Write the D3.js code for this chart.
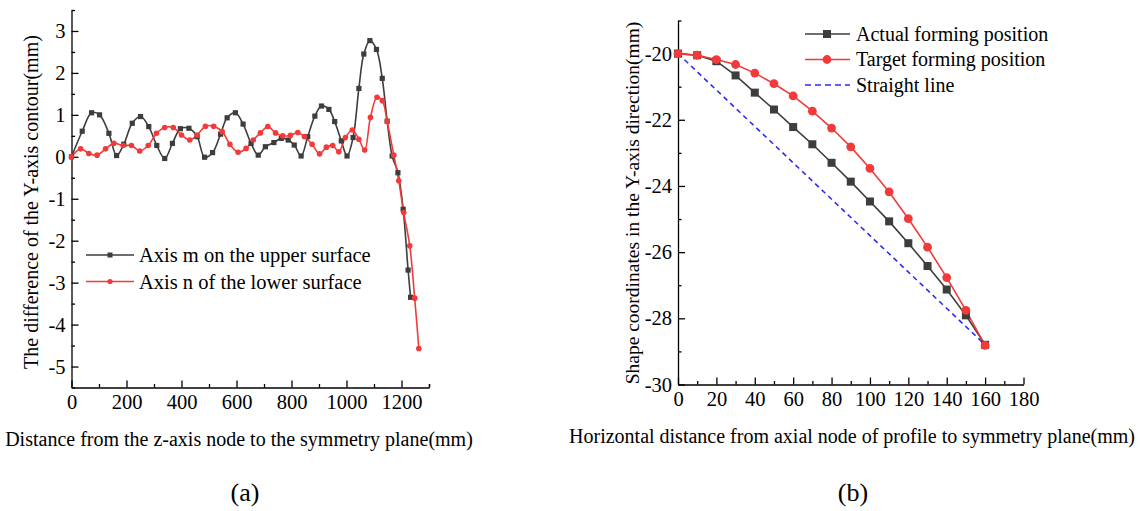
<!DOCTYPE html>
<meta charset="utf-8">
<style>
body { margin: 0; background: #fff; }
svg text { font-family: "Liberation Serif", "Times New Roman", serif; fill: #000; }
.axis path, .axis line { stroke: #000; stroke-width: 1.3px; }
</style>
<body>
<script src="https://d3js.org/d3.v7.min.js"></script>
<script>

// ---- left chart (a): Y-axis contour difference ----
var mNodeX = [0, 39, 73, 102, 136, 164, 190, 221, 251, 281, 310, 339, 367, 396, 427, 457, 484, 513, 542, 566,
              596, 624, 653, 679, 705, 736, 763, 788, 810, 835, 859, 885, 909, 936, 957, 981, 1002, 1024, 1045,
              1063, 1085, 1109, 1130, 1148, 1166, 1187, 1206, 1224, 1233];
var mDiff  = [0, 0.61, 1.05, 1.0, 0.56, 0.03, 0.30, 0.80, 0.96, 0.72, 0.27, -0.04, 0.32, 0.67, 0.68, 0.48, -0.01, 0.10, 0.54, 0.93,
              1.05, 0.78, 0.32, 0.04, 0.24, 0.34, 0.44, 0.40, 0.28, 0.02, 0.48, 0.97, 1.21, 1.13, 0.84, 0.38, 0.02, 0.46, 1.63,
              2.45, 2.77, 2.56, 1.87, 0.85, 0.02, -0.38, -1.25, -2.70, -3.35];

var nNodeX = [0, 33, 63, 93, 124, 154, 188, 218, 248, 279, 309, 339, 370, 400, 430, 457, 487, 517, 548, 576,
              606, 635, 661, 687, 714, 742, 768, 796, 823, 847, 875, 902, 927, 950, 972, 996, 1021, 1045, 1066,
              1087, 1111, 1130, 1148, 1172, 1190, 1208, 1230, 1248, 1263];
var nDiff  = [0, 0.19, 0.08, 0.04, 0.19, 0.32, 0.27, 0.27, 0.14, 0.27, 0.56, 0.70, 0.70, 0.52, 0.40, 0.52, 0.73, 0.73, 0.60, 0.30,
              0.11, 0.20, 0.40, 0.57, 0.72, 0.57, 0.50, 0.51, 0.58, 0.48, 0.30, 0.07, 0.23, 0.27, 0.12, 0.46, 0.64, 0.42, 0.16,
              0.94, 1.42, 1.34, 0.84, 0.04, -0.57, -1.33, -2.12, -3.37, -4.57];

var aXTicks = [0, 200, 400, 600, 800, 1000, 1200];
var aYTicks = [-5, -4, -3, -2, -1, 0, 1, 2, 3];

// ---- right chart (b): shape coordinates ----
var profX   = [0, 10, 20, 30, 40, 50, 60, 70, 80, 90, 100, 110, 120, 130, 140, 150, 160];
var actualY = [-20.0, -20.05, -20.23, -20.66, -21.18, -21.69, -22.22, -22.74, -23.30, -23.87,
               -24.47, -25.07, -25.73, -26.42, -27.13, -27.91, -28.80];
var targetY = [-20.0, -20.05, -20.18, -20.33, -20.59, -20.91, -21.28, -21.74, -22.25, -22.82,
               -23.47, -24.18, -24.99, -25.85, -26.77, -27.76, -28.82];
var straightX = [0, 160];
var straightY = [-20.0, -28.8];

var bXTicks = [0, 20, 40, 60, 80, 100, 120, 140, 160, 180];
var bYTicks = [-30, -28, -26, -24, -22, -20];

var grey = "#3d3d3d", red = "#f23a3a", blue = "#2b2bf5";

var svg = d3.select("body").append("svg")
    .attr("width", 1140)
    .attr("height", 511);

// plain hyphen minus, no thousands separator
var fmt = function(d) { return String(d); };

// axes helper: inward major + minor ticks
function drawAxes(x, y, xMajor, xMinor, yMajor, yMinor, fs) {
  var gx = svg.append("g").attr("class", "axis")
      .attr("transform", "translate(0," + y.range()[0] + ")");
  gx.call(d3.axisBottom(x).tickValues(xMinor).tickSize(-3.5).tickSizeOuter(0).tickFormat(""));
  var gx2 = svg.append("g").attr("class", "axis")
      .attr("transform", "translate(0," + y.range()[0] + ")");
  gx2.call(d3.axisBottom(x).tickValues(xMajor).tickSize(-7).tickSizeOuter(0).tickPadding(7).tickFormat(fmt));
  gx2.select(".domain").remove();
  gx2.selectAll("text").style("font-size", fs + "px").style("font-family", "Liberation Serif");

  var gy = svg.append("g").attr("class", "axis")
      .attr("transform", "translate(" + x.range()[0] + ",0)");
  gy.call(d3.axisLeft(y).tickValues(yMinor).tickSize(-3.5).tickSizeOuter(0).tickFormat(""));
  var gy2 = svg.append("g").attr("class", "axis")
      .attr("transform", "translate(" + x.range()[0] + ",0)");
  gy2.call(d3.axisLeft(y).tickValues(yMajor).tickSize(-7).tickSizeOuter(0).tickPadding(6).tickFormat(fmt));
  gy2.select(".domain").remove();
  gy2.selectAll("text").style("font-size", fs + "px").style("font-family", "Liberation Serif");
}

// ================= chart (a) =================
var xa = d3.scaleLinear().domain([0, 1300]).range([71.5, 429]);
var ya = d3.scaleLinear().domain([-5.5, 3.5]).range([387.5, 10]);

drawAxes(xa, ya, aXTicks, d3.range(100, 1301, 200).concat([1300]),
         aYTicks, d3.range(-5.5, 3.6, 1), 20.5);

var lineA = d3.line().curve(d3.curveCatmullRom.alpha(0.5))
    .x(function(d) { return xa(d[0]); })
    .y(function(d) { return ya(d[1]); });

var mData = d3.zip(mNodeX, mDiff);
var nData = d3.zip(nNodeX, nDiff);

svg.append("path").datum(mData).attr("d", lineA)
    .attr("fill", "none").attr("stroke", grey).attr("stroke-width", 1.6);
svg.append("path").datum(nData).attr("d", lineA)
    .attr("fill", "none").attr("stroke", red).attr("stroke-width", 1.6);

svg.selectAll(".msq").data(mData).enter().append("rect")
    .attr("x", function(d) { return xa(d[0]) - 2.6; })
    .attr("y", function(d) { return ya(d[1]) - 2.6; })
    .attr("width", 5.2).attr("height", 5.2)
    .attr("fill", grey);
svg.selectAll(".ncir").data(nData).enter().append("circle")
    .attr("cx", function(d) { return xa(d[0]); })
    .attr("cy", function(d) { return ya(d[1]); })
    .attr("r", 2.8)
    .attr("fill", red);

// legend (a)
var legA = [["Axis m on the upper surface", grey, "sq"], ["Axis n of the lower surface", red, "ci"]];
legA.forEach(function(l, i) {
  var ly = 255 + i * 26.5;
  svg.append("line").attr("x1", 86).attr("x2", 134).attr("y1", ly).attr("y2", ly)
      .attr("stroke", l[1]).attr("stroke-width", 1.6);
  if (l[2] == "sq") {
    svg.append("rect").attr("x", 107.5).attr("y", ly - 2.5).attr("width", 5).attr("height", 5).attr("fill", l[1]);
  } else {
    svg.append("circle").attr("cx", 110).attr("cy", ly).attr("r", 2.6).attr("fill", l[1]);
  }
  svg.append("text").attr("x", 139).attr("y", ly + 7)
      .style("font-size", "20.5px").text(l[0]);
});

// axis titles (a)
svg.append("text")
    .attr("transform", "translate(38,202) rotate(-90)")
    .attr("text-anchor", "middle")
    .style("font-size", "20px")
    .text("The difference of the Y-axis contour(mm)");
svg.append("text")
    .attr("x", 239).attr("y", 446)
    .attr("text-anchor", "middle")
    .style("font-size", "20px")
    .text("Distance from the z-axis node to the symmetry plane(mm)");
svg.append("text")
    .attr("x", 245).attr("y", 501)
    .attr("text-anchor", "middle")
    .style("font-size", "26px")
    .text("(a)");

// ================= chart (b) =================
var xb = d3.scaleLinear().domain([0, 180]).range([678, 1023.5]);
var yb = d3.scaleLinear().domain([-30, -19]).range([384.5, 20.5]);

drawAxes(xb, yb, bXTicks, d3.range(10, 180, 20),
         bYTicks, d3.range(-29, -18, 2), 20.5);

var lineB = d3.line()
    .x(function(d) { return xb(d[0]); })
    .y(function(d) { return yb(d[1]); });

var actData = d3.zip(profX, actualY);
var tgtData = d3.zip(profX, targetY);
var strData = d3.zip(straightX, straightY);

svg.append("path").datum(strData).attr("d", lineB)
    .attr("fill", "none").attr("stroke", blue).attr("stroke-width", 1.6)
    .attr("stroke-dasharray", "5,4");
svg.append("path").datum(actData).attr("d", lineB)
    .attr("fill", "none").attr("stroke", grey).attr("stroke-width", 1.6);
svg.append("path").datum(tgtData).attr("d", lineB)
    .attr("fill", "none").attr("stroke", red).attr("stroke-width", 1.6);

svg.selectAll(".asq").data(actData).enter().append("rect")
    .attr("x", function(d) { return xb(d[0]) - 4; })
    .attr("y", function(d) { return yb(d[1]) - 4; })
    .attr("width", 8).attr("height", 8)
    .attr("fill", grey);
svg.selectAll(".tcir").data(tgtData).enter().append("circle")
    .attr("cx", function(d) { return xb(d[0]); })
    .attr("cy", function(d) { return yb(d[1]); })
    .attr("r", 4.4)
    .attr("fill", red);

// legend (b)
var legB = [["Actual forming position", grey, "sq"], ["Target forming position", red, "ci"], ["Straight line", blue, "dash"]];
legB.forEach(function(l, i) {
  var ly = 34 + i * 25.5;
  var ln = svg.append("line").attr("x1", 805).attr("x2", 850).attr("y1", ly).attr("y2", ly)
      .attr("stroke", l[1]).attr("stroke-width", 1.6);
  if (l[2] == "sq") {
    svg.append("rect").attr("x", 823).attr("y", ly - 4).attr("width", 8).attr("height", 8).attr("fill", l[1]);
  } else if (l[2] == "ci") {
    svg.append("circle").attr("cx", 827).attr("cy", ly).attr("r", 4.4).attr("fill", l[1]);
  } else {
    ln.attr("stroke-dasharray", "6,4");
  }
  svg.append("text").attr("x", 856).attr("y", ly + 6.5)
      .style("font-size", "20px").text(l[0]);
});

// axis titles (b)
svg.append("text")
    .attr("transform", "translate(639,203) rotate(-90)")
    .attr("text-anchor", "middle")
    .style("font-size", "19.5px")
    .text("Shape coordinates in the Y-axis direction(mm)");
svg.append("text")
    .attr("x", 852).attr("y", 443)
    .attr("text-anchor", "middle")
    .style("font-size", "20px")
    .text("Horizontal distance from axial node of profile to symmetry plane(mm)");
svg.append("text")
    .attr("x", 853).attr("y", 501)
    .attr("text-anchor", "middle")
    .style("font-size", "26px")
    .text("(b)");

</script>
</body>
